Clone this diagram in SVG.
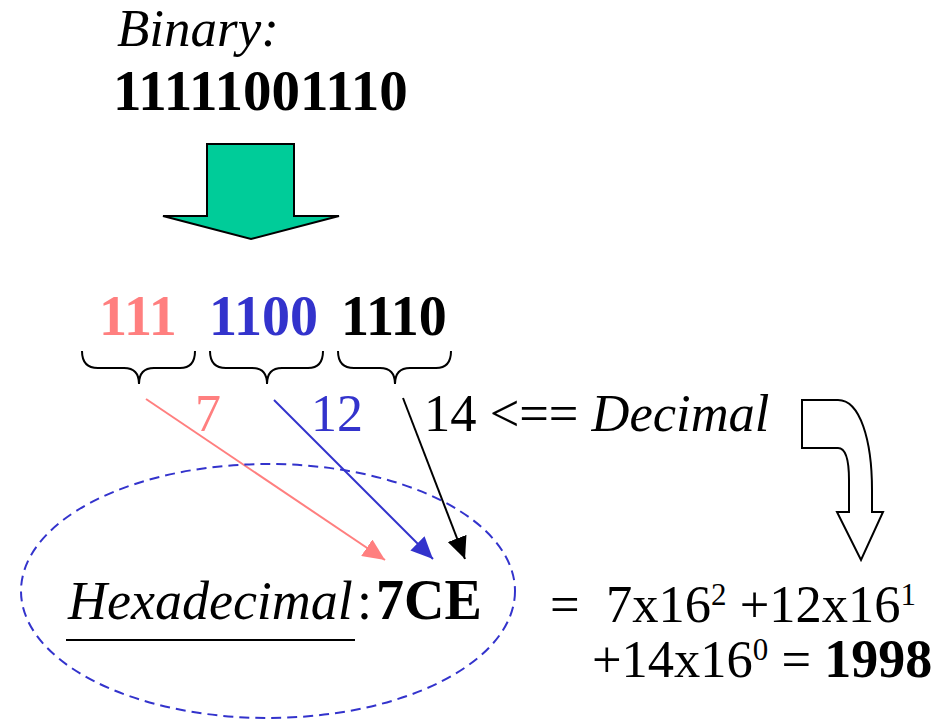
<svg xmlns="http://www.w3.org/2000/svg" width="938" height="722" viewBox="0 0 938 722">
<style>
  text { font-family: "Liberation Serif", "Times New Roman", serif; font-size: 52px; fill: #000; }
  .b { font-weight: bold; font-size: 56px; }
  .i { font-style: italic; }
  .pink { fill: #FF7F7F; }
  .blue { fill: #3333CC; }
  .brace { fill: none; stroke: #000; stroke-width: 2; }
  .eq { font-size: 52.5px; }
  .sup { font-size: 31px; }
</style>
<defs>
  <marker id="ahPink" markerUnits="userSpaceOnUse" markerWidth="22" markerHeight="20" refX="22" refY="10" orient="auto">
    <path d="M0,0 L22,10 L0,20 z" fill="#FF7F7F"/>
  </marker>
  <marker id="ahBlue" markerUnits="userSpaceOnUse" markerWidth="22" markerHeight="20" refX="22" refY="10" orient="auto">
    <path d="M0,0 L22,10 L0,20 z" fill="#3333CC"/>
  </marker>
  <marker id="ahBlack" markerUnits="userSpaceOnUse" markerWidth="22" markerHeight="20" refX="22" refY="10" orient="auto">
    <path d="M0,0 L22,10 L0,20 z" fill="#000"/>
  </marker>
</defs>

<g id="binary">
  <text class="i" x="117" y="46" style="font-size:53px">Binary:</text>
  <text class="b" x="113" y="110" style="font-size:57px">11111001110</text>
</g>

<g id="green-arrow">
  <path d="M207,144 L294,144 L294,216 L339,216 L251,239 L163,216 L207,216 Z" fill="#00CC99" stroke="#000" stroke-width="2"/>
</g>

<g id="groups">
  <text class="b pink" x="99" y="335">111</text>
  <text class="b blue" x="209" y="335">1100</text>
  <text class="b" x="341" y="335">1110</text>
</g>

<g id="braces">
  <path class="brace" d="M82,351 Q82,368 98,368 L124,368 Q139,368 139,384 Q139,368 154,368 L180,368 Q195,368 195,351"/>
  <path class="brace" d="M210,351 Q210,368 226,368 L252,368 Q267,368 267,384 Q267,368 282,368 L308,368 Q323,368 323,351"/>
  <path class="brace" d="M338,351 Q338,368 354,368 L380,368 Q395,368 395,384 Q395,368 410,368 L436,368 Q451,368 451,351"/>
</g>

<g id="decimals">
  <text class="pink" x="195" y="431">7</text>
  <text class="blue" x="311" y="431">12</text>
  <text x="424" y="431" style="font-size:52.5px">14 &lt;== <tspan class="i">Decimal</tspan></text>
</g>

<g id="connectors">
  <line x1="146" y1="399" x2="385" y2="560" stroke="#FF7F7F" stroke-width="2" marker-end="url(#ahPink)"/>
  <line x1="274" y1="400" x2="433" y2="559" stroke="#3333CC" stroke-width="2" marker-end="url(#ahBlue)"/>
  <line x1="403" y1="398" x2="465" y2="559" stroke="#000" stroke-width="2" marker-end="url(#ahBlack)"/>
</g>

<g id="curved-arrow">
  <path d="M802,400 L838,400 C860,400 872,440 872,490 L872,512 L883,512 L861,560 L837,512 L849,512 L849,480 C849,460 846,448 838,448 L802,448 Z" fill="#fff" stroke="#000" stroke-width="2"/>
</g>

<g id="hex">
  <ellipse cx="268" cy="591" rx="247" ry="127" fill="none" stroke="#3333CC" stroke-width="2" stroke-dasharray="10,6"/>
  <text class="i" x="68" y="619" style="font-size:54px">Hexadecimal</text>
  <text x="357" y="619" style="font-size:54px">:</text>
  <text class="b" x="376" y="619">7CE</text>
  <line x1="66" y1="640" x2="355" y2="640" stroke="#000" stroke-width="2"/>
</g>

<g id="equation">
  <text class="eq" x="550" y="622">=<tspan x="606">7x16</tspan><tspan class="sup" dy="-17">2</tspan><tspan dy="17"> +12x16</tspan><tspan class="sup" dy="-17">1</tspan></text>
  <text class="eq" x="592" y="677">+14x16<tspan class="sup" dy="-17">0</tspan><tspan dy="17"> = </tspan><tspan class="b" style="font-size:54px">1998</tspan></text>
</g>
</svg>
